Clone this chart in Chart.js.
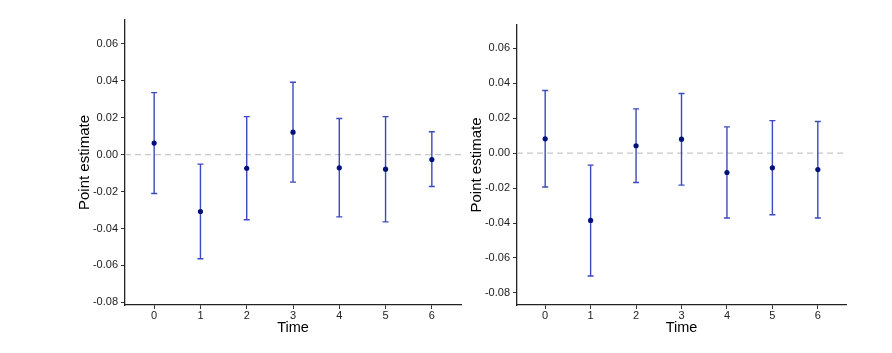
<!DOCTYPE html>
<html>
<head>
<meta charset="utf-8">
<script src="https://cdn.jsdelivr.net/npm/chart.js@4"></script>
<style>
  html, body { margin: 0; padding: 0; background: #fff; }
  body { width: 892px; height: 353px; position: relative; overflow: hidden; }
  .panel { position: absolute; top: 0; height: 353px; }
  #leftBox { left: 0; width: 470px; }
  #rightBox { left: 440px; width: 452px; }
</style>
</head>
<body>
<div class="panel" id="leftBox"><canvas id="leftChart"></canvas></div>
<div class="panel" id="rightBox"><canvas id="rightChart"></canvas></div>
<script>
// Waktu (kategori sumbu x)
const timeLabels = [0, 1, 2, 3, 4, 5, 6];
const yTicks = [-0.08, -0.06, -0.04, -0.02, 0, 0.02, 0.04, 0.06];

// Panel kiri
const leftEstimate = [0.0062, -0.0308, -0.0074, 0.0121, -0.0072, -0.0079, -0.0027];
const leftLower = [-0.0211, -0.0564, -0.0353, -0.0149, -0.0337, -0.0364, -0.0173];
const leftUpper = [0.0335, -0.0052, 0.0205, 0.0391, 0.0195, 0.0205, 0.0123];

// Panel kanan
const rightEstimate = [0.0082, -0.0385, 0.0042, 0.0080, -0.0111, -0.0084, -0.0094];
const rightLower = [-0.0194, -0.0703, -0.0168, -0.0183, -0.0371, -0.0353, -0.0371];
const rightUpper = [0.0358, -0.0069, 0.0253, 0.0341, 0.0150, 0.0186, 0.0181];

const barColor = '#3b4bbd';
const pointColor = '#00127a';

// garis nol putus-putus + error bar
const errorBarPlugin = {
  id: 'errorBars',
  beforeDatasetsDraw(chart) {
    const { ctx, chartArea, scales } = chart;
    const y0 = scales.y.getPixelForValue(0);
    ctx.save();
    ctx.strokeStyle = '#c8c8c8';
    ctx.lineWidth = 1.2;
    ctx.setLineDash([6, 4]);
    ctx.beginPath();
    ctx.moveTo(chartArea.left, y0);
    ctx.lineTo(chartArea.right, y0);
    ctx.stroke();
    ctx.setLineDash([]);

    const bars = chart.options.plugins.errorBars;
    ctx.strokeStyle = barColor;
    ctx.lineWidth = 1.4;
    timeLabels.forEach((t, i) => {
      const x = scales.x.getPixelForValue(t);
      const yl = scales.y.getPixelForValue(bars.lower[i]);
      const yu = scales.y.getPixelForValue(bars.upper[i]);
      ctx.beginPath();
      ctx.moveTo(x, yl); ctx.lineTo(x, yu);
      ctx.moveTo(x - 3, yl); ctx.lineTo(x + 3, yl);
      ctx.moveTo(x - 3, yu); ctx.lineTo(x + 3, yu);
      ctx.stroke();
    });
    ctx.restore();
  }
};

function makeChart(id, est, lower, upper, cfg) {
  const ctx = document.getElementById(id).getContext('2d');
  return new Chart(ctx, {
    type: 'scatter',
    data: {
      datasets: [{
        data: timeLabels.map((t, i) => ({ x: t, y: est[i] })),
        backgroundColor: pointColor,
        borderColor: pointColor,
        pointRadius: 2.6,
        borderWidth: 0
      }]
    },
    options: {
      responsive: true,
      maintainAspectRatio: false,
      animation: false,
      layout: { padding: cfg.padding },
      plugins: {
        legend: { display: false },
        tooltip: { enabled: false },
        errorBars: { lower: lower, upper: upper }
      },
      scales: {
        x: {
          type: 'linear',
          min: cfg.xMin,
          max: cfg.xMax,
          afterBuildTicks: (s) => { s.ticks = timeLabels.map(v => ({ value: v })); },
          afterFit: (s) => { s.height = 32; },
          grid: { drawOnChartArea: false, tickLength: 4, color: '#333', tickWidth: 1 },
          border: { color: '#222', width: 1.3 },
          ticks: {
            color: '#222',
            font: { family: 'Liberation Sans, Arial, sans-serif', size: 11 },
            padding: 0,
            callback: (v) => String(v)
          },
          title: {
            display: true,
            text: 'Time',
            color: '#000',
            font: { family: 'Liberation Sans, Arial, sans-serif', size: 14.5 },
            padding: { top: 0, bottom: 0 }
          }
        },
        y: {
          min: cfg.yMin,
          max: cfg.yMax,
          afterBuildTicks: (s) => { s.ticks = yTicks.map(v => ({ value: v })); },
          afterFit: (s) => { s.width = 50; },
          grid: { drawOnChartArea: false, tickLength: 4, color: '#333', tickWidth: 1 },
          border: { color: '#222', width: 1.3 },
          ticks: {
            color: '#222',
            font: { family: 'Liberation Sans, Arial, sans-serif', size: 11 },
            padding: 3,
            callback: (v) => v.toFixed(2)
          },
          title: {
            display: true,
            text: 'Point estimate',
            color: '#000',
            font: { family: 'Liberation Sans, Arial, sans-serif', size: 15 },
            padding: { top: 1, bottom: 0 }
          }
        }
      }
    },
    plugins: [errorBarPlugin]
  });
}

const leftChart = makeChart('leftChart', leftEstimate, leftLower, leftUpper, {
  padding: { left: 75, right: 9, top: 20, bottom: 16 },
  xMin: -0.63, xMax: 6.63, yMin: -0.0814, yMax: 0.0728
});

const rightChart = makeChart('rightChart', rightEstimate, rightLower, rightUpper, {
  padding: { left: 27, right: 46, top: 25, bottom: 16 },
  xMin: -0.62, xMax: 6.62, yMin: -0.0869, yMax: 0.0733
});
</script>
</body>
</html>
